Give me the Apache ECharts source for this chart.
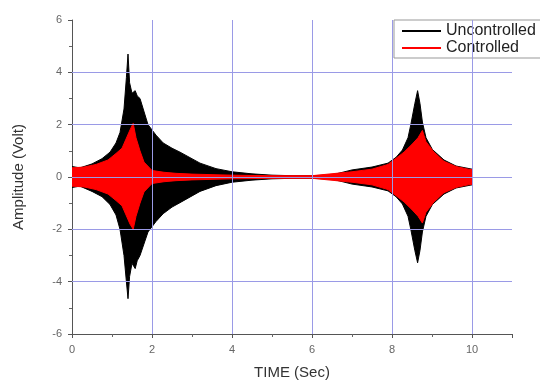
<!DOCTYPE html>
<html><head><meta charset="utf-8">
<script src="https://cdn.jsdelivr.net/npm/echarts@6/dist/echarts.min.js"></script>
<style>html,body{margin:0;padding:0;background:#fff}#c{width:540px;height:381px}</style>
</head><body><div id="c"></div>
<script>
// Envelope of the uncontrolled response (time, upper, lower)
var tUnc = [0,0.05,0.2,0.5,0.75,0.95,1.1,1.2,1.3,1.36,1.4,1.44,1.5,1.58,1.63,1.7,1.9,2.1,2.28,2.5,2.7,3.2,3.6,4.0,4.5,5.0,5.5,6.0,6.5,7.0,7.5,7.9,8.1,8.26,8.4,8.47,8.57,8.64,8.7,8.76,8.85,9.01,9.3,9.6,10.0];
var upUnc = [0.4,0.45,0.35,0.5,0.7,0.95,1.3,1.7,2.6,3.8,4.7,3.6,3.2,3.3,3.1,3.0,2.0,1.6,1.3,1.1,0.95,0.53,0.32,0.2,0.12,0.07,0.05,0.05,0.08,0.27,0.38,0.53,0.75,1.03,1.5,2.0,2.8,3.3,2.8,2.1,1.5,1.05,0.65,0.42,0.3];
var loUnc = [-0.4,-0.45,-0.35,-0.55,-0.75,-1.05,-1.45,-2.0,-3.0,-4.0,-4.65,-3.8,-3.3,-3.5,-3.2,-3.0,-2.1,-1.7,-1.4,-1.15,-0.98,-0.55,-0.33,-0.2,-0.12,-0.07,-0.05,-0.05,-0.08,-0.27,-0.38,-0.53,-0.75,-1.03,-1.5,-2.0,-2.8,-3.28,-2.8,-2.1,-1.5,-1.05,-0.65,-0.42,-0.3];
// Envelope of the controlled response
var tCon = [0,0.05,0.3,0.6,0.9,1.1,1.25,1.35,1.45,1.53,1.6,1.7,1.8,2.0,2.3,2.6,3.0,3.5,4.0,5.0,6.0,7.0,7.5,7.9,8.3,8.5,8.65,8.76,8.85,9.05,9.3,9.6,9.9,10.0];
var upCon = [0.35,0.4,0.38,0.48,0.65,0.9,1.1,1.45,1.8,2.05,1.5,1.0,0.57,0.25,0.18,0.14,0.11,0.09,0.07,0.05,0.05,0.2,0.3,0.48,0.95,1.25,1.5,1.78,1.35,0.95,0.6,0.4,0.3,0.28];
var loCon = [-0.35,-0.4,-0.38,-0.48,-0.65,-0.9,-1.1,-1.45,-1.8,-2.0,-1.5,-1.0,-0.57,-0.25,-0.18,-0.14,-0.11,-0.09,-0.07,-0.05,-0.05,-0.2,-0.3,-0.48,-0.95,-1.25,-1.5,-1.76,-1.35,-0.95,-0.6,-0.4,-0.3,-0.28];
// Grid/tick values
var xGrid = [2,4,6,8,10];
var yGrid = [-4,-2,0,2,4];

function pairs(t, v){ return t.map(function(x,i){ return [x, v[i]]; }); }
function env(name, color, t, v, z){
  return {name:name, type:'line', data:pairs(t,v), symbol:'none', z:z,
    lineStyle:{color:color, width:1}, itemStyle:{color:color},
    areaStyle:{color:color, opacity:1}, silent:true, animation:false};
}
var gridColor = '#9a9ae6';
var marks = xGrid.map(function(x){return {xAxis:x};}).concat(yGrid.map(function(y){return {yAxis:y};}));
var FF = 'Liberation Sans, Arial, sans-serif';

var chart = echarts.init(document.getElementById('c'), null, {renderer:'canvas'});
chart.setOption({
  backgroundColor:'#fff',
  animation:false,
  grid:{left:72, right:28, top:20, bottom:47, containLabel:false, outerBoundsMode:'none'},
  legend:{
    data:[{name:'Uncontrolled', icon:'rect'},{name:'Controlled', icon:'rect'}],
    orient:'vertical', left:394, top:20, itemWidth:39, itemHeight:2, itemGap:1,
    padding:[3,12,2,8], borderColor:'#999', borderWidth:1, backgroundColor:'#fff',
    textStyle:{fontFamily:FF, fontSize:16, color:'#222', lineHeight:16}
  },
  xAxis:{type:'value', min:0, max:11, interval:2,
    name:'TIME (Sec)', nameLocation:'middle', nameGap:31,
    nameTextStyle:{fontFamily:FF, fontSize:15, color:'#333'},
    axisLine:{show:true, onZero:false, lineStyle:{color:'#555', width:1}},
    axisTick:{show:true, length:4, lineStyle:{color:'#555'}},
    minorTick:{show:true, splitNumber:2, length:3, lineStyle:{color:'#666'}},
    axisLabel:{fontFamily:FF, fontSize:11, color:'#666', showMaxLabel:false, margin:10},
    splitLine:{show:false}},
  yAxis:{type:'value', min:-6, max:6, interval:2,
    name:'Amplitude (Volt)', nameLocation:'middle', nameGap:46, nameRotate:90,
    nameTextStyle:{fontFamily:FF, fontSize:15, color:'#333'},
    axisLine:{show:true, lineStyle:{color:'#555', width:1}},
    axisTick:{show:true, length:4, lineStyle:{color:'#555'}},
    minorTick:{show:true, splitNumber:2, length:3, lineStyle:{color:'#666'}},
    axisLabel:{fontFamily:FF, fontSize:11, color:'#666', margin:10},
    splitLine:{show:false}},
  series:[
    {name:'grid', type:'line', data:[], z:1, silent:true,
      markLine:{silent:true, symbol:'none', label:{show:false}, animation:false,
        lineStyle:{color:gridColor, width:1, type:'solid'}, data:marks}},
    env('Uncontrolled', '#000000', tUnc, upUnc, 2),
    env('Uncontrolled', '#000000', tUnc, loUnc, 2),
    env('Controlled', '#ff0000', tCon, upCon, 3),
    env('Controlled', '#ff0000', tCon, loCon, 3)
  ]
});
</script></body></html>
